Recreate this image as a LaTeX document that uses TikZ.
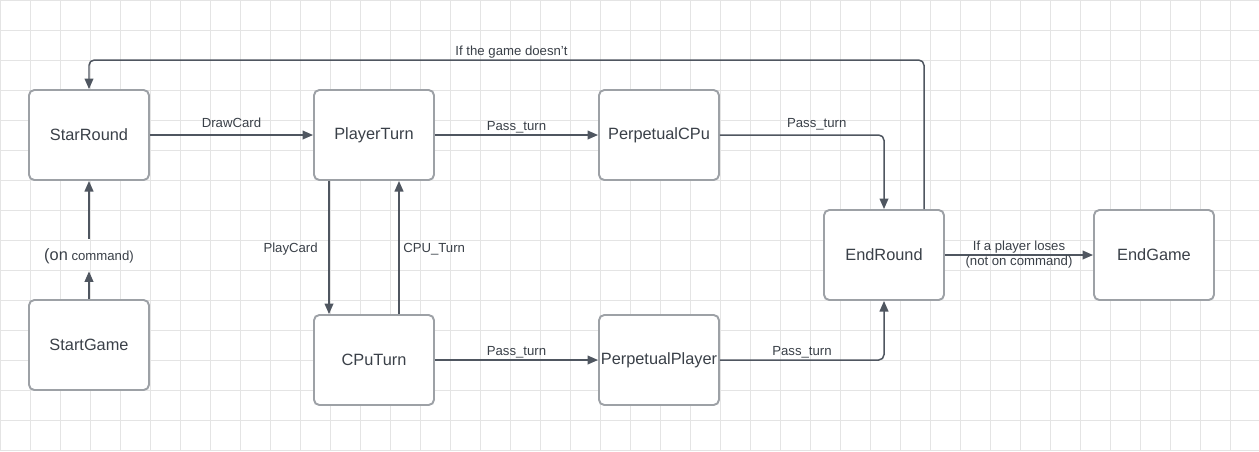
\documentclass[tikz,border=0pt]{standalone}
\usepackage{fontspec}
\setmainfont{Liberation Sans}
\usetikzlibrary{arrows.meta}

\definecolor{gridgray}{HTML}{E4E4E4}
\definecolor{boxgray}{HTML}{9DA1A6}
\definecolor{linegray}{HTML}{4F5660}
\definecolor{txtgray}{HTML}{3A4048}

\tikzset{
  state/.style={draw=boxgray, line width=1.1pt, rounded corners=3pt, fill=white,
    minimum width=2.4cm, minimum height=1.8cm, inner sep=0pt,
    text=txtgray, font=\fontsize{9.3}{11}\selectfont},
  trans/.style={draw=linegray, line width=0.85pt, rounded corners=3pt,
    -{Triangle[length=6pt,width=5pt]}},
  lbl/.style={text=txtgray, font=\fontsize{7.5}{8.5}\selectfont,
    inner sep=1pt, text depth=0pt},
}

\begin{document}
\begin{tikzpicture}[x=0.02cm, y=-0.02cm]
\useasboundingbox (0,0) rectangle (1259,451);
\fill[white] (0,0) rectangle (1259,451);
\foreach \gx in {0,30,...,1230}
    \draw[gridgray, line width=0.5pt] (\gx,0) -- (\gx,451);
\foreach \gy in {0,30,...,450}
    \draw[gridgray, line width=0.5pt] (0,\gy) -- (1259,\gy);

\node[state] (starround)  at (89,135)   {StarRound};
\node[state] (startgame)  at (89,345)   {StartGame};
\node[state] (playerturn) at (374,135)  {PlayerTurn};
\node[state] (cputurn)    at (374,360)  {CPuTurn};
\node[state] (perpcpu)    at (659,135)  {PerpetualCPu};
\node[state] (perpplayer) at (659,360)  {PerpetualPlayer};
\node[state] (endround)   at (884,255)  {EndRound};
\node[state] (endgame)    at (1154,255) {EndGame};

\node[lbl, minimum height=0.64cm, inner sep=0pt] (oncmd) at (89,255)
    {{\fontsize{9.3}{11}\selectfont(on} command)};

\coordinate (playdown) at (329,0);
\coordinate (cpuup) at (399,0);
\coordinate (loopcorner) at (924,60);

\draw[trans] (startgame) -- (oncmd);
\draw[trans] (oncmd) -- (starround);
\draw[trans] (starround) -- node[lbl, above=3pt] {DrawCard} (playerturn);
\draw[trans] (playerturn) -- node[lbl, above=1.3pt] {Pass\_turn} (perpcpu);
\draw[trans] (perpcpu) -- node[lbl, above=3pt, pos=0.59] {Pass\_turn}
    (perpcpu -| endround) -- (endround);
\draw[trans] (playerturn.south -| playdown) --
    node[lbl, left=5pt] {PlayCard} (cputurn.north -| playdown);
\draw[trans] (cputurn.north -| cpuup) --
    node[lbl, right=1pt] {CPU\_Turn} (playerturn.south -| cpuup);
\draw[trans] (cputurn) -- node[lbl, above=1.3pt] {Pass\_turn} (perpplayer);
\draw[trans] (perpplayer) -- node[lbl, above=1.3pt] {Pass\_turn}
    (perpplayer -| endround) -- (endround);
\draw[trans] (endround.north -| loopcorner) -- (loopcorner) --
    node[lbl, above=1.3pt, pos=0.494] {If the game doesn't} (loopcorner -| starround) -- (starround);
\draw[trans] (endround) -- node[lbl, align=center, text depth=, inner sep=0pt]
    {If a player loses\\(not on command)} (endgame);
\end{tikzpicture}
\end{document}
